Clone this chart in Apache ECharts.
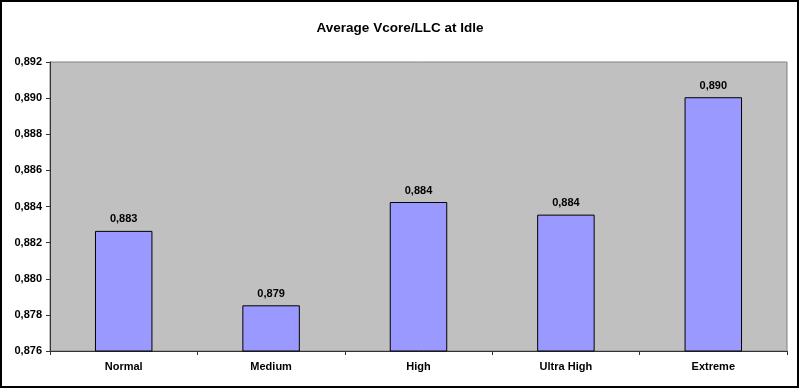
<!DOCTYPE html>
<html>
<head>
<meta charset="utf-8">
<script src="https://cdn.jsdelivr.net/npm/echarts@6/dist/echarts.min.js"></script>
<style>
html,body{margin:0;padding:0;background:#fff;}
#c{width:800px;height:390px;}
</style>
</head>
<body>
<div id="c"></div>
<script>
const title = 'Average Vcore/LLC at Idle';
const categories = ['Normal', 'Medium', 'High', 'Ultra High', 'Extreme'];
const values = [0.88265, 0.87853, 0.88425, 0.88355, 0.89005];
const yMin = 0.876, yMax = 0.892, yStep = 0.002;

const fmt = v => v.toFixed(3).replace('.', ',');
const chart = echarts.init(document.getElementById('c'), null, {renderer: 'canvas'});
chart.setOption({
  animation: false,
  backgroundColor: '#ffffff',
  title: {
    text: title, left: 'center', top: 16,
    textStyle: {fontFamily: 'Liberation Sans, Arial', fontWeight: 'bold', fontSize: 13.5, color: '#000'}
  },
  graphic: [{
    type: 'rect', silent: true, z: 100,
    shape: {x: 1, y: 1, width: 797, height: 386},
    style: {fill: 'none', stroke: '#000', lineWidth: 2}
  }],
  grid: {left: 50, right: 13, top: 62, bottom: 39, show: true, backgroundColor: '#c0c0c0', borderColor: '#808080', borderWidth: 1},
  xAxis: {
    type: 'category', data: categories,
    axisLine: {lineStyle: {color: '#333', width: 1}},
    axisTick: {show: true, length: 4, lineStyle: {color: '#333'}},
    axisLabel: {fontFamily: 'Liberation Sans, Arial', fontWeight: 'bold', fontSize: 11, color: '#000', margin: 10}
  },
  yAxis: {
    type: 'value', min: yMin, max: yMax, interval: yStep,
    axisLine: {show: true, lineStyle: {color: '#333', width: 1}},
    axisTick: {show: true, length: 4, lineStyle: {color: '#333'}},
    splitLine: {show: false},
    axisLabel: {fontFamily: 'Liberation Sans, Arial', fontWeight: 'bold', fontSize: 11, color: '#000', margin: 8, formatter: v => fmt(v)}
  },
  series: [{
    type: 'bar', data: values, barWidth: '39%',
    itemStyle: {color: '#9999ff', borderColor: '#000', borderWidth: 1},
    label: {show: true, position: 'top', distance: 6, formatter: p => fmt(p.value),
      fontFamily: 'Liberation Sans, Arial', fontWeight: 'bold', fontSize: 11, color: '#000'}
  }]
});
</script>
</body>
</html>
